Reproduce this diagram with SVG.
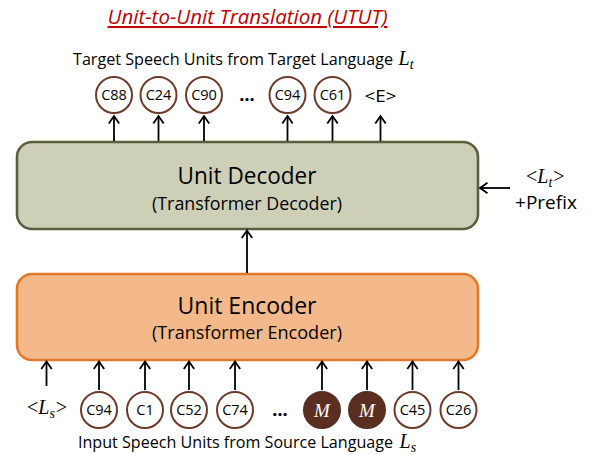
<svg xmlns="http://www.w3.org/2000/svg" width="589" height="455" viewBox="0 0 589 455">
<style>
.sans{font-family:"Open Sans","Noto Sans","Liberation Sans",sans-serif;fill:#000;}
.math{font-family:"Liberation Serif","DejaVu Serif",serif;font-style:italic;fill:#000;}
.br{font-family:"Liberation Serif","DejaVu Serif",serif;fill:#000;}
.unit{fill:#fff;stroke:#6e3a2a;stroke-width:2;}
.mask{fill:#5a2f21;stroke:#5a2f21;stroke-width:2;}
.ut{font-family:"Open Sans","Noto Sans","Liberation Sans",sans-serif;font-size:14.5px;fill:#000;text-anchor:middle;}
.dots{font-family:"Open Sans","Noto Sans","Liberation Sans",sans-serif;font-size:18px;font-weight:bold;fill:#000;text-anchor:middle;}
.conn line{stroke:#000;stroke-width:1.8;marker-end:url(#arr);}
</style>
<defs>
<marker id="arr" markerUnits="userSpaceOnUse" markerWidth="12" markerHeight="14" viewBox="0 0 12 14" refX="9" refY="7" orient="auto">
<path d="M1.5,1.8 L9,7 L1.5,12.2" fill="none" stroke="#000" stroke-width="1.8"/>
</marker>
</defs>
<rect width="589" height="455" fill="#fff"/>

<g id="title">
<text x="247.5" y="24" class="sans" font-size="20.5" font-style="italic" text-anchor="middle" textLength="280" lengthAdjust="spacingAndGlyphs" style="fill:#C00000" text-decoration="underline">Unit-to-Unit Translation (UTUT)</text>
</g>

<g id="target-label">
<text x="73" y="65" class="sans" font-size="16.2" textLength="320" lengthAdjust="spacingAndGlyphs">Target Speech Units from Target Language</text>
<text x="398.5" y="65" class="math" font-size="20">L<tspan font-size="14" dy="4">t</tspan></text>
</g>

<g id="target-units">
<g id="t-c88"><circle cx="114" cy="95" r="18" class="unit"/><text x="114" y="100" class="ut">C88</text></g>
<g id="t-c24"><circle cx="158.5" cy="95" r="18" class="unit"/><text x="158.5" y="100" class="ut">C24</text></g>
<g id="t-c90"><circle cx="204" cy="95" r="18" class="unit"/><text x="204" y="100" class="ut">C90</text></g>
<g id="t-dots"><text x="247" y="101" class="dots">…</text></g>
<g id="t-c94"><circle cx="287.5" cy="95" r="18" class="unit"/><text x="287.5" y="100" class="ut">C94</text></g>
<g id="t-c61"><circle cx="332.5" cy="95" r="18" class="unit"/><text x="332.5" y="100" class="ut">C61</text></g>
<g id="t-eos"><text x="380.5" y="101.5" class="sans" font-size="17" text-anchor="middle" textLength="32" lengthAdjust="spacingAndGlyphs">&lt;E&gt;</text></g>
</g>

<g id="decoder">
<rect x="17" y="142" width="461" height="87" rx="15" ry="15" fill="#CDCFB7" stroke="#5B5E3F" stroke-width="2.6"/>
<text x="247" y="183.5" class="sans" font-size="23.5" text-anchor="middle" textLength="139" lengthAdjust="spacingAndGlyphs">Unit Decoder</text>
<text x="247" y="209.5" class="sans" font-size="17.5" text-anchor="middle" textLength="190" lengthAdjust="spacingAndGlyphs">(Transformer Decoder)</text>
</g>

<g id="prefix">
<text x="526" y="183" class="br" font-size="20">&lt;<tspan class="math">L</tspan><tspan class="math" font-size="14" dy="4">t</tspan><tspan dy="-4" dx="1">&gt;</tspan></text>
<text x="546" y="208.5" class="sans" font-size="19" text-anchor="middle" textLength="62" lengthAdjust="spacingAndGlyphs">+Prefix</text>
</g>

<g id="encoder">
<rect x="17" y="274" width="461" height="86" rx="15" ry="15" fill="#F4B98B" stroke="#E07A28" stroke-width="2.6"/>
<text x="247" y="313.5" class="sans" font-size="23.5" text-anchor="middle" textLength="139" lengthAdjust="spacingAndGlyphs">Unit Encoder</text>
<text x="247" y="339" class="sans" font-size="17.5" text-anchor="middle" textLength="190" lengthAdjust="spacingAndGlyphs">(Transformer Encoder)</text>
</g>

<g id="source-units">
<g id="s-lang">
<text x="27" y="414" class="br" font-size="20">&lt;<tspan class="math">L</tspan><tspan class="math" font-size="14" dy="4">s</tspan><tspan dy="-4" dx="1">&gt;</tspan></text>
</g>
<g id="s-c94"><circle cx="99" cy="410" r="18" class="unit"/><text x="99" y="415" class="ut">C94</text></g>
<g id="s-c1"><circle cx="145" cy="410" r="18" class="unit"/><text x="145" y="415" class="ut">C1</text></g>
<g id="s-c52"><circle cx="189" cy="410" r="18" class="unit"/><text x="189" y="415" class="ut">C52</text></g>
<g id="s-c74"><circle cx="235" cy="410" r="18" class="unit"/><text x="235" y="415" class="ut">C74</text></g>
<g id="s-dots"><text x="280" y="416" class="dots">…</text></g>
<g id="s-m1"><circle cx="322" cy="410" r="18" class="mask"/><text x="322" y="416.5" class="math" font-size="19" text-anchor="middle" style="fill:#fff">M</text></g>
<g id="s-m2"><circle cx="367" cy="410" r="18" class="mask"/><text x="367" y="416.5" class="math" font-size="19" text-anchor="middle" style="fill:#fff">M</text></g>
<g id="s-c45"><circle cx="412.5" cy="410" r="18" class="unit"/><text x="412.5" y="415" class="ut">C45</text></g>
<g id="s-c26"><circle cx="458.5" cy="410" r="18" class="unit"/><text x="458.5" y="415" class="ut">C26</text></g>
</g>

<g id="source-label">
<text x="78" y="448" class="sans" font-size="16" textLength="315" lengthAdjust="spacingAndGlyphs">Input Speech Units from Source Language</text>
<text x="399.5" y="448" class="math" font-size="20">L<tspan font-size="14" dy="4">s</tspan></text>
</g>

<g id="connectors" class="conn">
<line x1="114" y1="141" x2="114" y2="116"/>
<line x1="158.5" y1="141" x2="158.5" y2="116"/>
<line x1="204" y1="141" x2="204" y2="116"/>
<line x1="287.5" y1="141" x2="287.5" y2="116"/>
<line x1="332.5" y1="141" x2="332.5" y2="116"/>
<line x1="380.5" y1="141" x2="380.5" y2="116"/>
<line x1="247" y1="273" x2="247" y2="230.5"/>
<line x1="510" y1="188" x2="480" y2="188"/>
<line x1="46.5" y1="386" x2="46.5" y2="361.5"/>
<line x1="99" y1="390" x2="99" y2="361.5"/>
<line x1="145" y1="390" x2="145" y2="361.5"/>
<line x1="189" y1="390" x2="189" y2="361.5"/>
<line x1="235" y1="390" x2="235" y2="361.5"/>
<line x1="322" y1="390" x2="322" y2="361.5"/>
<line x1="367" y1="390" x2="367" y2="361.5"/>
<line x1="412.5" y1="390" x2="412.5" y2="361.5"/>
<line x1="458.5" y1="390" x2="458.5" y2="361.5"/>
</g>
</svg>
